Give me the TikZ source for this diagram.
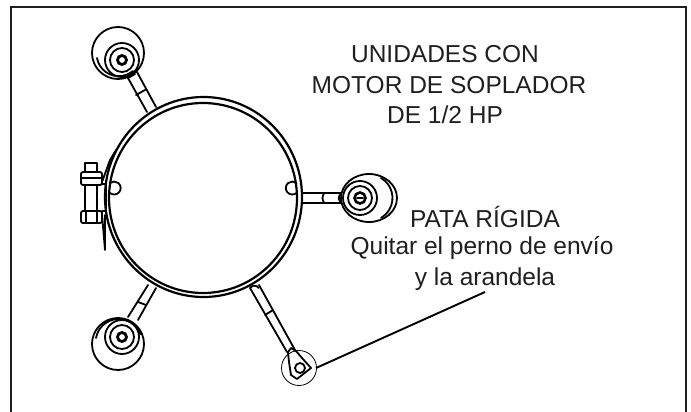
\documentclass[tikz,border=0pt]{standalone}
\usepackage{fontspec}
\setmainfont{Liberation Sans}
\tikzset{
  ink/.style={draw=black,line width=1.8pt,line cap=round,line join=round},
  label text/.style={font=\fontsize{24.5}{30}\selectfont,text=black!88,inner sep=0pt,anchor=base}
}
\begin{document}
\begin{tikzpicture}[x=1pt,y=-1pt]
\useasboundingbox (0,0) rectangle (691,412);
\fill[white] (0,0) rectangle (691,412);
% frame
\draw[line width=2.6pt,black!88] (11,412) -- (11,7) -- (686,7) -- (686,412);
% housing
\draw[line width=2.2pt] (203.5,197) ellipse [x radius=98.5,y radius=100];
\draw[line width=2.2pt] (203,198) ellipse [x radius=94,y radius=95];
% side holes
\draw[ink] (296.5,193) arc[start angle=50,end angle=310,radius=6.5];
\draw[ink] (110,193) arc[start angle=130,end angle=-130,radius=6.5];
% top-left leg
\draw[ink] (128,78) -- (147,112) (137,72) -- (156,107) (136,95) -- (145,90);
\draw[ink] (128,78) -- (135,74);
\draw[line width=2.8pt] (122,60) circle (4.5);
\draw[ink] (122,60) circle (12) (122,60) circle (17);
\draw[ink] (118,53) circle (26);
\draw[ink] (97,58) arc[start angle=170,end angle=50,radius=22];
% right leg
\draw[ink] (303,193) -- (341,193) (303,203) -- (341,203) (324,193) .. controls (322,198) .. (324,203);
\draw[ink] (341,193) .. controls (338,198) .. (341,203);
\draw[line width=2.6pt] (360,198) circle (5.5);
\draw[ink] (357,198) -- (363,198);
\draw[ink] (360,198) circle (12) (360,198) circle (17);
\draw[ink] (369,198) ellipse [x radius=28,y radius=24];
\draw[ink] (381,178) arc[start angle=-60,end angle=60,radius=23];
% bottom-left leg
\draw[ink] (128,317) -- (148,285) (138,320) -- (156,288) (138,302) -- (146,305);
\draw[line width=2.8pt] (122,337) circle (4.5);
\draw[ink] (122,337) circle (12) (122,337) circle (17);
\draw[ink] (118,344) circle (26);
\draw[ink] (96,338) arc[start angle=190,end angle=340,radius=23];
% bottom-right leg
\draw[ink] (250,288) -- (287,352) (259,285) -- (295,350) (265,315) -- (273,310);
\draw[ink] (250,288) arc[start angle=210,end angle=330,radius=5];
\draw[ink] (288,352) -- (291,348) -- (296,351) -- (302,358) -- (311,368) -- (297,379) -- (291,375) -- (289,362) -- cycle;
\draw[ink] (300,368) circle (5);
\draw[line width=0.8pt] (299,368) circle (17.5);
% leader
\coordinate (leaderA) at (316,368);
\coordinate (leaderB) at (485,292);
\draw[line width=1.9pt] (leaderA) -- (leaderB);
% bolts
\draw[ink] (85,172) -- (85,163) -- (97,163) -- (97,172);
\draw[ink,rounded corners=2pt] (81,172) rectangle (102,185);
\draw[ink] (82,178) -- (101,178);
\draw[ink] (85,185) -- (85,211) (97,185) -- (97,211);
\draw[ink,rounded corners=2pt] (81,211) rectangle (102,223);
\draw[ink] (86,211) -- (86,223) (97,211) -- (97,223);
\draw[ink] (102,184) -- (106,184) (102,211) -- (106,211);
\draw[ink] (106,184) -- (106,211);
\draw[ink] (102,182) -- (110,160) -- (116,150) (102,214) -- (105,250) -- (105,215);
% text
\node[label text] (t1) at (445,63) {UNIDADES CON};
\node[label text] (t2) at (449,94) {MOTOR DE SOPLADOR};
\node[label text] (t3) at (445,124) {DE 1/2 HP};
\node[label text] (t4) at (485,227) {PATA RÍGIDA};
\node[label text] (t5) at (482,254) {Quitar el perno de envío};
\node[label text] (t6) at (485,285) {y la arandela};
\end{tikzpicture}
\end{document}
